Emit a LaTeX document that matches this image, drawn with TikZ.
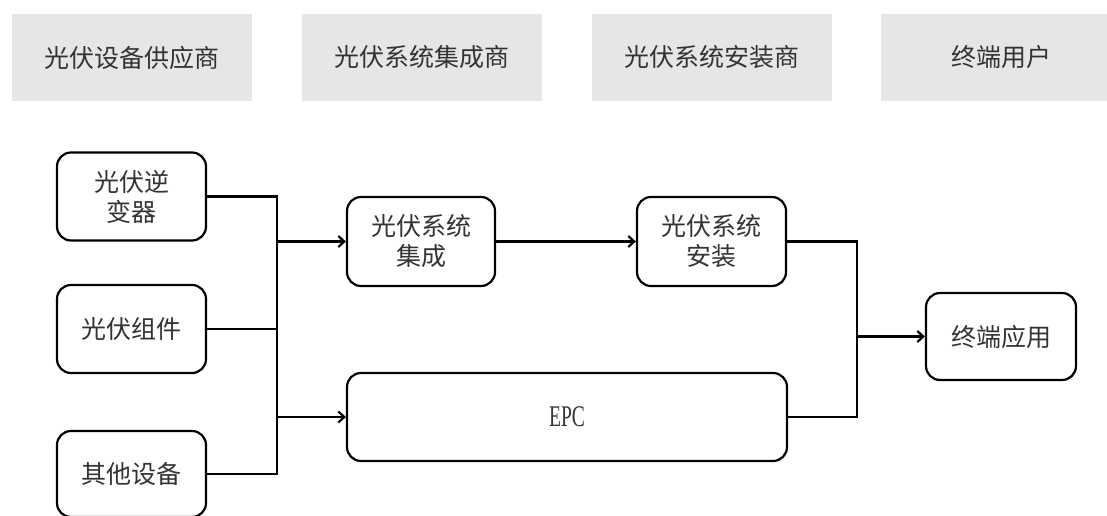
\documentclass[tikz,border=0pt]{standalone}
\usepackage{fontspec}
\setmainfont{Liberation Serif}
\newfontfamily\cjk{Noto Sans CJK SC}
\newfontfamily\epcfont[FakeStretch=0.65]{Liberation Serif}
\usetikzlibrary{arrows.meta}
\definecolor{hdrgray}{HTML}{E6E6E6}
\definecolor{txtgray}{HTML}{333333}
\begin{document}
\begin{tikzpicture}[x=1pt,y=-1pt,
  hdr/.style={fill=hdrgray,draw=none,minimum width=240pt,minimum height=87pt,inner sep=0pt,
    font=\cjk\fontsize{25}{30}\selectfont,text=txtgray},
  boxn/.style={draw=black,line width=2.2pt,rounded corners=14pt,minimum width=149pt,minimum height=88pt,
    inner sep=0pt,align=center,font=\cjk\fontsize{25}{30}\selectfont,text=txtgray},
  conn/.style={draw=black,line width=2.2pt},
  arr/.style={conn,-{Straight Barb[length=6pt,width=11pt,line width=2.2pt]}}]
\clip (0,0) rectangle (1107,516);
\fill[white] (0,0) rectangle (1107,516);
% header bars
\node[hdr] (h1) at (131.5,57.5) {光伏设备供应商};
\node[hdr] (h2) at (421.5,57.5) {光伏系统集成商};
\node[hdr] (h3) at (711.5,57.5) {光伏系统安装商};
\node[hdr] (h4) at (1001,57.5) {终端用户};
% boxes
\node[boxn] (inv) at (131.5,196.5) {光伏逆\\变器};
\node[boxn] (comp) at (131.5,329) {光伏组件};
\node[boxn,minimum height=86pt] (oth) at (131.5,474) {其他设备};
\node[boxn,minimum width=148pt,minimum height=89pt] (int) at (421,241.5) {光伏系统\\集成};
\node[boxn,minimum height=89pt] (inst) at (711.5,241.5) {光伏系统\\安装};
\node[boxn,minimum width=440pt,font=\epcfont\fontsize{30}{34}\selectfont] (epc) at (567,417) {EPC};
\node[boxn,minimum width=150pt,minimum height=87pt] (term) at (1001,336.5) {终端应用};
% left bus
\coordinate (b1) at (277,196.5);
\coordinate (b3) at (277,474);
\draw[conn] (inv.east) -- (b1) -- (b3) -- (oth.east);
\draw[conn] (comp.east) -- (comp.east -| b1);
\draw[arr] (b1 |- int.west) -- (int.west);
\draw[arr] (b1 |- epc.west) -- (epc.west);
\draw[arr] (int.east) -- (inst.west);
% right bus
\coordinate (c1) at (857,241.5);
\draw[conn] (inst.east) -- (c1) -- (c1 |- epc.east) -- (epc.east);
\draw[arr] (c1 |- term.west) -- (term.west);
\end{tikzpicture}
\end{document}
